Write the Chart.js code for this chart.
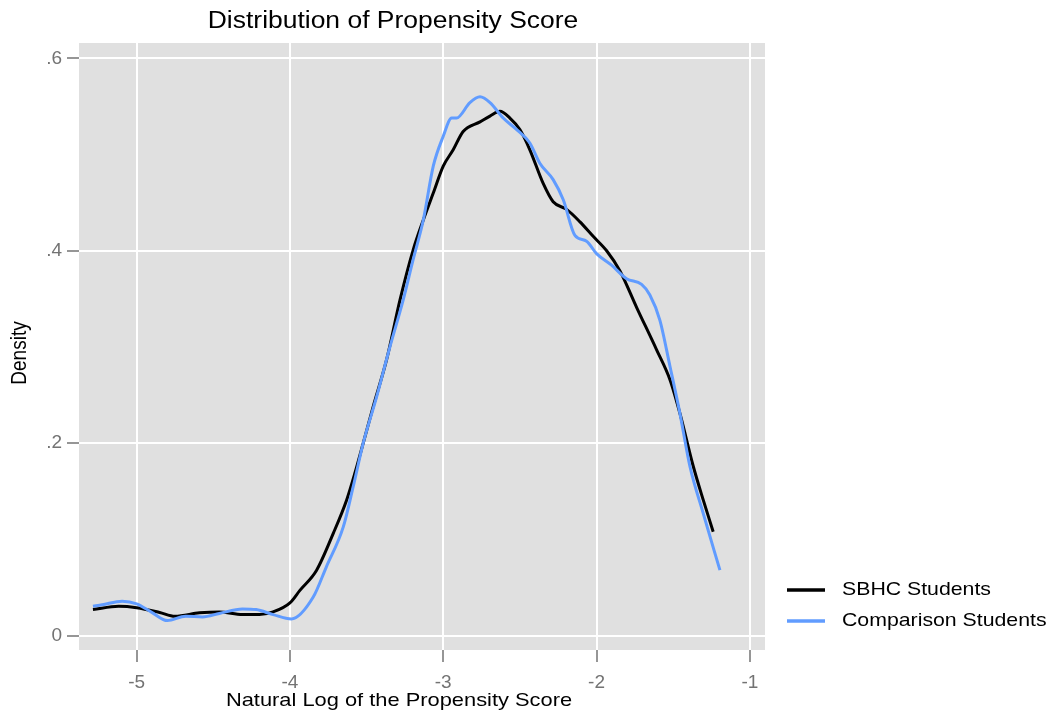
<!DOCTYPE html>
<html>
<head>
<meta charset="utf-8">
<script src="https://cdn.jsdelivr.net/npm/chart.js@4.4.1/dist/chart.umd.min.js"></script>
<style>
    body { margin: 0; background: #fff; }
</style>
</head>
<body>
<canvas id="grafico" width="1053" height="717"></canvas>
<script>
// valores (densidad por log del propensity score)
const sbhcX = [-5.285, -5.117, -5.0, -4.85, -4.75, -4.59, -4.46, -4.31, -4.20, -4.11, -4.0, -3.935, -3.826, -3.718, -3.630, -3.576, -3.522, -3.457, -3.369, -3.282, -3.196, -3.130, -3.065, -3.0, -2.935, -2.870, -2.76, -2.695, -2.63, -2.565, -2.50, -2.435, -2.348, -2.283, -2.195, -2.108, -2.022, -1.934, -1.847, -1.738, -1.608, -1.521, -1.456, -1.369, -1.304, -1.239];
const sbhcY = [0.027, 0.0305, 0.029, 0.024, 0.020, 0.0236, 0.0246, 0.0218, 0.0218, 0.0246, 0.034, 0.047, 0.068, 0.106, 0.141, 0.169, 0.200, 0.238, 0.287, 0.349, 0.401, 0.432, 0.460, 0.488, 0.505, 0.524, 0.534, 0.540, 0.545, 0.538, 0.526, 0.505, 0.470, 0.451, 0.443, 0.430, 0.415, 0.400, 0.379, 0.341, 0.297, 0.266, 0.231, 0.176, 0.141, 0.108];
const compX = [-5.285, -5.225, -5.094, -5.0, -4.896, -4.80, -4.68, -4.57, -4.46, -4.31, -4.22, -4.11, -3.99, -3.848, -3.761, -3.652, -3.587, -3.522, -3.435, -3.348, -3.261, -3.196, -3.13, -3.065, -3.0, -2.945, -2.913, -2.826, -2.76, -2.695, -2.609, -2.521, -2.435, -2.37, -2.283, -2.217, -2.141, -2.065, -2.0, -1.902, -1.804, -1.706, -1.652, -1.587, -1.521, -1.456, -1.391, -1.304, -1.195];
const compY = [0.0305, 0.032, 0.0357, 0.033, 0.0236, 0.0156, 0.020, 0.0194, 0.023, 0.0277, 0.027, 0.0218, 0.0173, 0.040, 0.072, 0.113, 0.155, 0.200, 0.248, 0.300, 0.349, 0.391, 0.432, 0.488, 0.519, 0.538, 0.538, 0.554, 0.560, 0.554, 0.538, 0.526, 0.512, 0.491, 0.474, 0.453, 0.416, 0.410, 0.397, 0.385, 0.371, 0.365, 0.354, 0.328, 0.280, 0.231, 0.176, 0.127, 0.068];

const xTicks = [-5, -4, -3, -2, -1];
const xTickLabels = ["-5", "-4", "-3", "-2", "-1"];
const yTicks = [0, 0.2, 0.4, 0.6];
const yTickLabels = ["0", ".2", ".4", ".6"];
const seriesNames = ["SBHC Students", "Comparison Students"];
const seriesColors = ["#000000", "#619CFF"];

const titulo = "Distribution of Propensity Score";
const tituloX = "Natural Log of the Propensity Score";
const tituloY = "Density";
const fuente = "'Liberation Sans', Arial, Helvetica, sans-serif";
const gris = "#737373";

// el original esta un poco estirado en horizontal
const estirar = 1.15;

const puntos = (xs, ys) => xs.map((x, i) => ({ x: x, y: ys[i] }));

const textoEstirado = (ctx, txt, x, y, align) => {
    ctx.save();
    ctx.translate(x, y);
    ctx.scale(estirar, 1);
    ctx.textAlign = align;
    ctx.fillText(txt, 0, 0);
    ctx.restore();
};

// fondo gris del panel + titulos + leyenda
const decoracion = {
    id: "decoracion",
    beforeDraw(chart) {
        const { ctx, chartArea } = chart;
        ctx.save();
        ctx.fillStyle = "#e0e0e0";
        ctx.fillRect(chartArea.left, chartArea.top, chartArea.right - chartArea.left, chartArea.bottom - chartArea.top);
        ctx.restore();
    },
    afterDraw(chart) {
        const ctx = chart.ctx;
        ctx.save();
        ctx.fillStyle = "#000";
        ctx.textBaseline = "alphabetic";
        ctx.font = "23px " + fuente;
        textoEstirado(ctx, titulo, 393, 28, "center");

        ctx.font = "19px " + fuente;
        textoEstirado(ctx, tituloX, 399, 706, "center");

        ctx.save();
        ctx.translate(26, 353);
        ctx.scale(estirar, 1);
        ctx.rotate(-Math.PI / 2);
        ctx.textAlign = "center";
        ctx.fillText(tituloY, 0, 0);
        ctx.restore();

        // leyenda
        ctx.font = "18.5px " + fuente;
        ctx.textBaseline = "middle";
        chart.data.datasets.forEach((ds, i) => {
            const y = 590 + i * 31;
            ctx.strokeStyle = ds.borderColor;
            ctx.lineWidth = 3.5;
            ctx.beginPath();
            ctx.moveTo(787, y);
            ctx.lineTo(825, y);
            ctx.stroke();
            ctx.fillStyle = "#000";
            textoEstirado(ctx, ds.label, 842, y, "left");
        });
        ctx.restore();
    }
};

const ctx = document.querySelector("#grafico").getContext("2d");
const miGrafico = new Chart(ctx, {
    type: "line",
    data: {
        datasets: [{
            label: seriesNames[0],
            data: puntos(sbhcX, sbhcY),
            borderColor: seriesColors[0],
            borderWidth: 3,
            pointRadius: 0,
            cubicInterpolationMode: "monotone",
            order: 1
        }, {
            label: seriesNames[1],
            data: puntos(compX, compY),
            borderColor: seriesColors[1],
            borderWidth: 3,
            pointRadius: 0,
            cubicInterpolationMode: "monotone",
            order: 0
        }]
    },
    options: {
        responsive: false,
        animation: false,
        layout: { padding: { top: 43, right: 288, left: 0, bottom: 0 } },
        plugins: {
            legend: { display: false },
            tooltip: { enabled: false }
        },
        scales: {
            x: {
                type: "linear",
                min: -5.376,
                max: -0.901,
                afterBuildTicks: (s) => { s.ticks = xTicks.map(v => ({ value: v })); },
                afterFit: (s) => { s.height = 67; },
                border: { display: false },
                grid: { color: "#ffffff", lineWidth: 2, tickColor: gris, tickLength: 12, tickWidth: 1.5 },
                ticks: {
                    color: gris,
                    font: { size: 19, family: fuente },
                    padding: 9,
                    maxRotation: 0,
                    autoSkip: false,
                    callback: (v) => xTickLabels[xTicks.indexOf(v)]
                }
            },
            y: {
                type: "linear",
                min: -0.015,
                max: 0.616,
                afterBuildTicks: (s) => { s.ticks = yTicks.map(v => ({ value: v })); },
                afterFit: (s) => { s.width = 79; },
                border: { display: false },
                grid: { color: "#ffffff", lineWidth: 2, tickColor: gris, tickLength: 12, tickWidth: 1.5 },
                ticks: {
                    color: gris,
                    font: { size: 19, family: fuente },
                    padding: 5,
                    autoSkip: false,
                    callback: (v) => yTickLabels[yTicks.indexOf(v)]
                }
            }
        }
    },
    plugins: [decoracion]
});
</script>
</body>
</html>
